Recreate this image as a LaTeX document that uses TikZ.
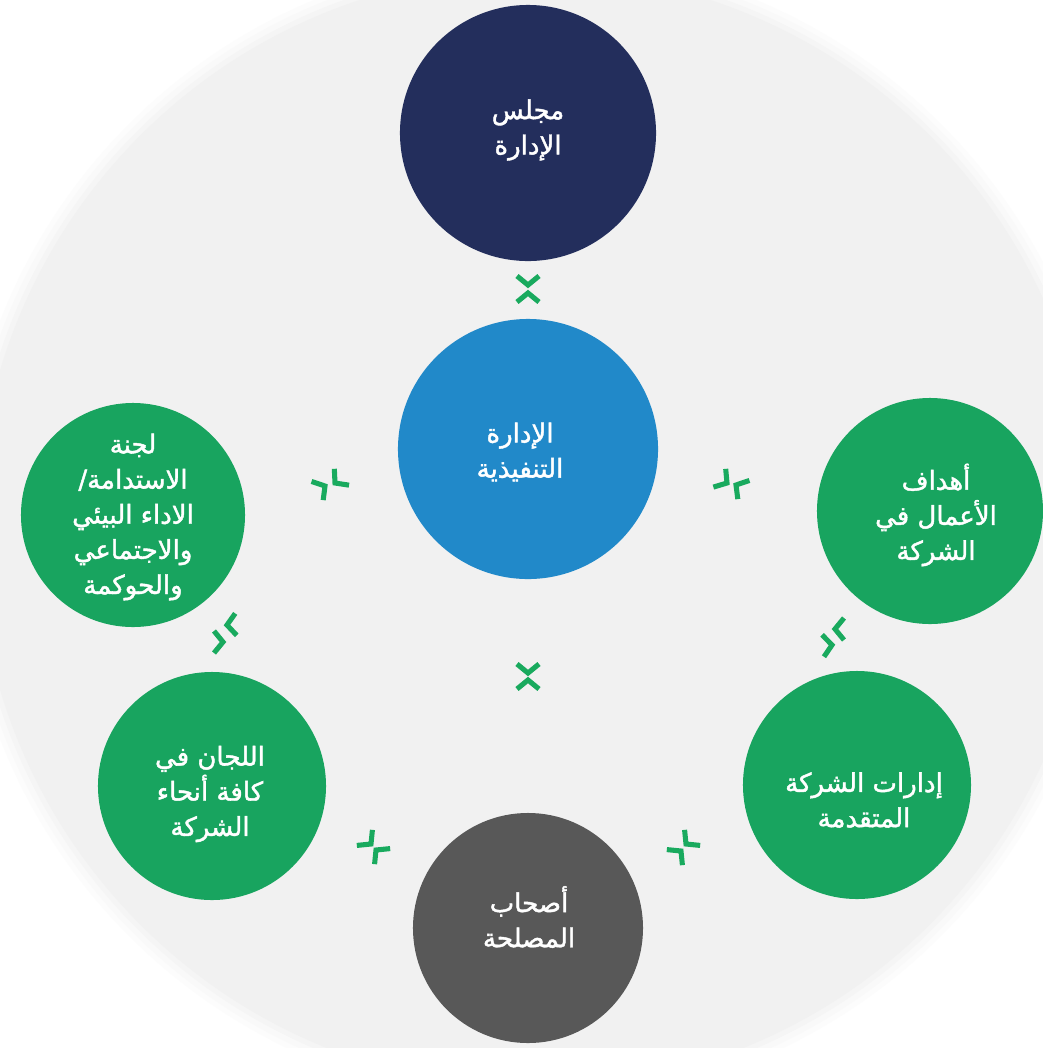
\documentclass[tikz,border=0pt]{standalone}
\usepackage{fontspec}
\newfontfamily\arabicfont[Script=Arabic,FakeBold=1.6]{DejaVu Sans}
\TeXXeTstate=1
\definecolor{bgcircle}{HTML}{F1F1F1}
\definecolor{navy}{HTML}{232E5C}
\definecolor{skyblue}{HTML}{2189C9}
\definecolor{leafgreen}{HTML}{18A45F}
\definecolor{stonegray}{HTML}{585858}
\definecolor{chevgreen}{HTML}{19AA5E}
\tikzset{
  ring/.style={circle, inner sep=0pt, minimum size=#1},
  lbl/.style={text=white, align=center, inner sep=0pt,
    font=\arabicfont\fontsize{18.5}{25}\selectfont},
  chev/.pic={\draw[chevgreen, line width=3.6pt, line join=miter] (-9,-11) -- (0,0) -- (-9,11);}
}
\begin{document}
\begin{tikzpicture}[x=0.025cm, y=-0.025cm]
  \useasboundingbox (0,0) rectangle (1043,1048);
  \clip (0,0) rectangle (1043,1048);
  \fill[white] (0,0) rectangle (1043,1048);
  % soft grey disc behind everything
  \foreach \r/\t in {14.35/20, 14.22/45, 14.08/70, 13.95/100}
    \fill[bgcircle!\t] (535,530) circle[radius=\r cm];
  % circles
  \node[ring=6.4cm, fill=navy] (board) at (528,133) {};
  \node[ring=6.5cm, fill=skyblue] (exec) at (528,449) {};
  \node[ring=5.6cm, fill=leafgreen] (esg) at (133,515) {};
  \node[ring=5.65cm, fill=leafgreen] (goals) at (930,511) {};
  \node[ring=5.7cm, fill=leafgreen] (cmte) at (212,786) {};
  \node[ring=5.7cm, fill=leafgreen] (depts) at (857,785) {};
  \node[ring=5.75cm, fill=stonegray] (stake) at (528,928) {};
  % labels
  \node[lbl] (board-t) at (528,130) {\beginR مجلس\endR\\\beginR الإدارة\endR};
  \node[lbl] (exec-t) at (520,452) {\beginR الإدارة\endR\\\beginR التنفيذية\endR};
  \node[lbl] (esg-t) at (133,517) {\beginR لجنة\endR\\\beginR الاستدامة/\endR\\\beginR الاداء البيئي\endR\\\beginR والاجتماعي\endR\\\beginR والحوكمة\endR};
  \node[lbl] (goals-t) at (936,515) {\beginR أهداف\endR\\\beginR الأعمال في\endR\\\beginR الشركة\endR};
  \node[lbl] (cmte-t) at (210,794) {\beginR اللجان في\endR\\\beginR كافة أنحاء\endR\\\beginR الشركة\endR};
  \node[lbl] (depts-t) at (864,800) {\beginR إدارات الشركة\endR\\\beginR المتقدمة\endR};
  \node[lbl] (stake-t) at (529,917) {\beginR أصحاب\endR\\\beginR المصلحة\endR};
  % double chevrons between the circles
  \foreach \px/\py/\rot in {528/285/-90, 528/293/90, 528/673/-90, 528/680/90,
      325/486/32, 335/483/222, 727/483/-34, 736/485/148,
      223/642/0, 227/625/184, 832/645/5, 835/629/180,
      371/844/-45, 376/850/135, 686/844/225, 681/851/45}
    \pic[rotate=\rot] at (\px,\py) {chev};
\end{tikzpicture}
\end{document}
